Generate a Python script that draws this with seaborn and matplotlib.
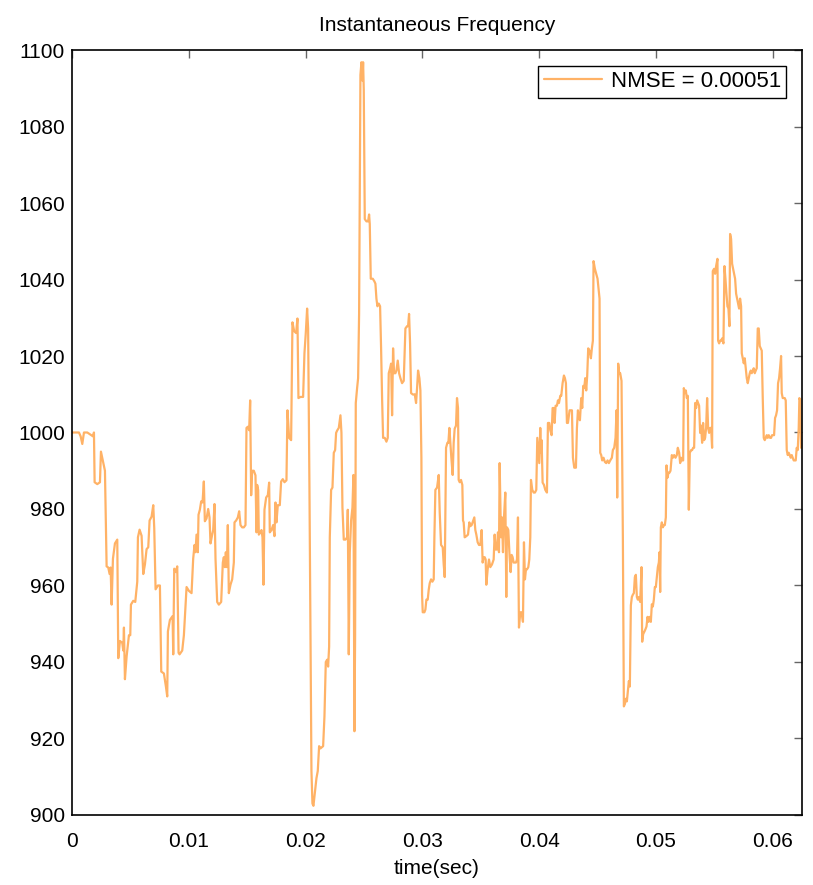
import numpy as np
import pandas as pd
import matplotlib
matplotlib.use('Agg')
import matplotlib.pyplot as plt
import seaborn as sns

# values (time in ms, frequency in Hz)
time_ms = [
    0.0, 0.594, 0.736, 0.879, 1.021, 1.307, 1.592, 1.791, 1.877, 1.934, 2.162, 2.390,
    2.476, 2.647, 2.818, 2.961, 3.103, 3.217, 3.303, 3.389, 3.503, 3.674, 3.873, 3.959,
    4.102, 4.301, 4.387, 4.444, 4.529, 4.672, 4.872, 4.986, 5.043, 5.242, 5.413, 5.585,
    5.642, 5.784, 5.955, 6.098, 6.241, 6.383, 6.526, 6.640, 6.811, 6.954, 7.039, 7.153,
    7.353, 7.524, 7.638, 7.866, 8.037, 8.151, 8.208, 8.380, 8.608, 8.665, 8.750, 8.893,
    9.007, 9.121, 9.207, 9.435, 9.577, 9.720, 9.806, 10.005, 10.233,
    10.373, 10.487, 10.573, 10.658, 10.772, 10.829, 10.944, 11.058, 11.172, 11.286, 11.371,
    11.514, 11.657, 11.771, 11.856, 11.999, 12.084, 12.198, 12.284, 12.427, 12.569, 12.769,
    12.911, 12.997, 13.083, 13.168, 13.254, 13.339, 13.425, 13.567, 13.710, 13.853, 13.910,
    14.052, 14.195, 14.309, 14.423, 14.566, 14.708, 14.851, 14.936, 15.051, 15.165, 15.250,
    15.336, 15.421, 15.564, 15.706, 15.792, 15.849, 15.935, 15.992, 16.134, 16.220, 16.305,
    16.391, 16.476, 16.619, 16.762, 16.876, 16.933, 17.075, 17.218, 17.332, 17.418, 17.503,
    17.617, 17.788, 17.903, 18.045, 18.188, 18.359, 18.444, 18.587, 18.758, 18.872, 19.015,
    19.186, 19.300, 19.385, 19.556, 19.785, 19.899, 20.013, 20.127, 20.213, 20.327, 20.412,
    20.498, 20.584, 20.669, 20.811, 20.925, 21.039, 21.154, 21.268,
    21.498, 21.612, 21.726, 21.840, 21.926, 22.012, 22.069, 22.183, 22.297, 22.411, 22.525,
    22.610, 22.696, 22.839, 22.981, 23.067, 23.152, 23.266, 23.409, 23.552, 23.609, 23.694,
    23.780, 23.894, 24.008, 24.093, 24.179, 24.236, 24.293, 24.407, 24.493, 24.578, 24.635,
    24.692, 24.778, 24.864, 24.921, 24.978, 25.063, 25.206, 25.348, 25.434, 25.491, 25.577,
    25.748, 25.890, 25.976, 26.061, 26.147, 26.261, 26.375, 26.461, 26.546, 26.632, 26.774,
    26.917, 27.031, 27.117, 27.231, 27.316, 27.402, 27.487, 27.573, 27.687, 27.773, 27.887,
    28.001, 28.115, 28.257, 28.400, 28.543, 28.685, 28.771, 28.856, 28.942, 29.027, 29.199,
    29.342, 29.455, 29.541, 29.627, 29.740, 29.826, 29.912, 29.969, 30.026, 30.168, 30.254,
    30.340, 30.453, 30.539, 30.625, 30.739, 30.853, 30.967, 31.024, 31.109, 31.252, 31.395,
    31.480, 31.594, 31.737, 31.822, 31.908, 32.022, 32.136, 32.222, 32.307,
    32.476, 32.590, 32.675, 32.761, 32.875, 32.960, 33.046, 33.103, 33.189, 33.303, 33.417,
    33.474, 33.531, 33.616, 33.759, 33.902, 34.016, 34.101, 34.215, 34.329, 34.443, 34.529,
    34.615, 34.729, 34.843, 34.957, 35.071, 35.156, 35.242, 35.328, 35.413, 35.470, 35.584,
    35.698, 35.812, 35.955, 36.098, 36.183, 36.269, 36.383, 36.468, 36.554, 36.611, 36.725,
    36.811, 36.896, 36.982, 37.096, 37.181, 37.238, 37.352, 37.467, 37.552, 37.638, 37.723,
    37.809, 37.894, 38.008, 38.094, 38.180, 38.265, 38.379, 38.493, 38.607, 38.693, 38.778,
    38.864, 38.950, 39.064, 39.149, 39.235, 39.292, 39.406, 39.520, 39.634, 39.748, 39.834,
    39.919, 40.005, 40.090, 40.147, 40.204, 40.290, 40.404, 40.518, 40.661, 40.746, 40.860,
    40.946, 41.060, 41.146, 41.231, 41.317, 41.402, 41.516, 41.602, 41.688, 41.802, 41.887,
    42.001, 42.115, 42.201, 42.286, 42.372, 42.458, 42.600, 42.714, 42.800, 42.886, 43.000,
    43.142, 43.228, 43.313, 43.399, 43.484,
    43.596, 43.681, 43.767, 43.852, 43.938, 44.023, 44.109, 44.194, 44.309, 44.423, 44.508,
    44.594, 44.651, 44.765, 44.879, 44.993, 45.079, 45.164, 45.221, 45.307, 45.392, 45.506,
    45.620, 45.735, 45.849, 45.963, 46.077, 46.219, 46.305, 46.419, 46.533, 46.619, 46.676,
    46.761, 46.847, 46.932, 47.046, 47.161, 47.246, 47.332, 47.417, 47.503, 47.588, 47.674,
    47.759, 47.845, 47.931, 48.016, 48.102, 48.187, 48.273, 48.358, 48.444, 48.530, 48.644,
    48.758, 48.815, 48.900, 49.014, 49.100, 49.185, 49.271, 49.357, 49.442, 49.556, 49.642,
    49.727, 49.813, 49.898, 49.984, 50.070, 50.155, 50.241, 50.298, 50.355, 50.412, 50.497,
    50.583, 50.669, 50.754, 50.840, 50.897, 50.982, 51.068, 51.153, 51.239, 51.353, 51.439,
    51.553, 51.667, 51.781, 51.866, 51.981, 52.066, 52.152, 52.237, 52.323, 52.380, 52.465,
    52.551, 52.636, 52.722, 52.808, 52.893,
    53.006, 53.091, 53.177, 53.262, 53.348, 53.433, 53.519, 53.604, 53.690, 53.776, 53.861,
    53.947, 54.032, 54.118, 54.203, 54.289, 54.375, 54.460, 54.546, 54.631, 54.717, 54.802,
    54.859, 54.973, 55.059, 55.145, 55.259, 55.316, 55.401, 55.487, 55.572, 55.658, 55.772,
    55.858, 55.943, 56.029, 56.114, 56.200, 56.285, 56.342, 56.428, 56.514, 56.599, 56.685,
    56.770, 56.856, 56.941, 57.027, 57.112, 57.198, 57.284, 57.341, 57.426, 57.512, 57.597,
    57.683, 57.768, 57.854, 57.940, 58.025, 58.111, 58.196, 58.282, 58.367, 58.453, 58.538,
    58.624, 58.710, 58.795, 58.881, 58.966, 59.052, 59.137, 59.223, 59.308, 59.394, 59.480,
    59.565, 59.651, 59.765, 59.850, 59.936, 60.021, 60.107, 60.192, 60.278, 60.363, 60.449,
    60.535, 60.620, 60.706, 60.763, 60.848, 60.934, 61.019, 61.105, 61.191, 61.276, 61.362,
    61.447, 61.533, 61.618, 61.704, 61.789, 61.875, 61.960, 62.046, 62.132, 62.217, 62.274,
    62.360, 62.417, 62.474,
]
freq_hz = [
    1000, 1000, 999, 997, 1000, 1000, 999.4, 999, 1000, 987, 986.5, 987,
    995, 992.5, 990, 965, 964.7, 963, 964.7, 955, 967, 971, 972, 941,
    945.5, 945, 943, 949, 935.5, 941.4, 947, 947, 955, 956, 955.7, 961,
    972.6, 974.6, 973, 963, 965.5, 969.5, 970, 977, 978, 981, 975, 959,
    960, 960, 937.5, 937, 933.6, 931, 948, 951, 952, 942, 964.4, 963.5,
    965, 942.4, 942, 943, 947, 955, 959.6, 958.6, 958,
    967, 970.6, 968.7, 973.3, 968.7, 978.5, 979.8, 982, 981.7, 987.2, 976.8,
    977.5, 980, 977.8, 971, 973.3, 974.5, 981.3, 967, 955.7, 955, 955.7,
    966, 967.4, 964.8, 968.7, 964.8, 975.8, 958, 960.2, 961.6, 966, 976.5,
    977, 977.8, 979.4, 975.8, 975.2, 975.2, 975.8, 1001.2, 1001.5, 1000.6, 1008.4,
    983.6, 990, 990, 988.8, 973.9, 986.3, 985, 973.3, 973.9, 974.5, 972.6,
    960.2, 979.8, 983, 983.6, 986.9, 973.9, 974.5, 975.8, 972.9, 981.7, 976.5,
    981, 981, 987.2, 987.8, 987, 987.5, 1005.8, 998.6, 998, 1028.8, 1026.5,
    1026, 1029.8, 1009, 1009.3, 1009.3, 1020.7, 1026, 1032.4, 1027.2, 985.6, 946.6,
    911.5, 903, 902.4, 906.3, 909.6, 911.5, 918, 917.4,
    918, 925.8, 940, 940.6, 938.8, 944, 972.6, 985, 985.6, 994.7, 995.4,
    999.9, 1000.5, 1001.2, 1004.5, 999.9, 980.4, 972, 972, 972.6, 979.8, 942,
    968.7, 977, 980.4, 988.9, 921.9, 946.6, 1007.7, 1011.6, 1014.2, 1031, 1063.6,
    1093.5, 1096.8, 1092, 1096.8, 1089.6, 1055.8, 1055.2, 1055.2, 1057, 1054.5, 1040.2,
    1040.2, 1039.5, 1038.9, 1035, 1033, 1033.7, 1033, 1022, 1009, 998.6, 998.6,
    997.6, 998.6, 1015.5, 1016.8, 1018, 1004.5, 1022, 1015.5, 1015.5, 1016.2, 1018.8,
    1015.5, 1014.2, 1012.9, 1013.5, 1027.2, 1027.8, 1027.8, 1031, 1023.3, 1010.3, 1009.9,
    1010, 1007.7, 1011.6, 1016.2, 1014.2, 1011, 993.4, 957.6, 953, 953, 953.7,
    956.3, 956.3, 958.9, 960.6, 961.6, 961, 961.6, 972.6, 985, 985.6, 988.9,
    979.1, 970.6, 970, 965.5, 962.2, 996, 997.3, 997.3, 1001.2,
    993.4, 988.9, 997.3, 1001, 1001.8, 1009, 1006.4, 987.6, 987, 987.6, 986.3,
    977, 976.5, 972.6, 972.9, 973.3, 976.5, 975.5, 975.8, 976.8, 977.8, 974.5,
    973.3, 971.3, 970.6, 970.6, 974.5, 966, 967.4, 967.4, 966.8, 960.2, 964.2,
    966.8, 964.8, 965.5, 966.8, 973.3, 969.4, 969.4, 973.9, 968.7, 992, 972.6,
    977.8, 968.7, 977.8, 984.3, 957, 975.2, 974.5, 967.4, 963.5, 968, 967.4,
    966, 966, 966, 966.8, 977.8, 949, 953, 953, 950.5, 971.3, 961.6,
    964.2, 964.2, 964.8, 966.8, 972.6, 987.6, 985, 984.3, 984.3, 985, 998.6,
    995.4, 992, 1001.2, 994.7, 998, 986.9, 986.3, 985, 984.3, 1002.5, 1002.5,
    1000.6, 999.3, 1006.4, 1006.4, 1002.5, 1007, 1007, 1008.4, 1007.7, 1009.6, 1009.6,
    1012.9, 1014.9, 1014.2, 1012.9, 1002.5, 1002.5, 1005.8, 1005.8, 1005.8, 993.4, 990.8,
    990.8, 1001.2, 1005.8, 1003.8, 1003.2,
    1009, 1006.4, 1012.2, 1011.6, 1014.2, 1011, 1014.9, 1022, 1021.4, 1019.4, 1022,
    1024, 1044.8, 1042.8, 1041.5, 1040.2, 1037.6, 1035, 994.7, 994.1, 992.7, 993.4,
    992.3, 992, 992.7, 992, 992.7, 993.4, 995.4, 996, 998.6, 1005.8, 983,
    1018, 1015.5, 1015.5, 1013.5, 972.6, 928.4, 929, 930.4, 929.7, 932.3, 935,
    933.6, 954.8, 957, 957.6, 958, 962.2, 962.8, 957, 956.3, 957, 955.7,
    964.8, 945.3, 947.3, 948, 948.6, 949.3, 951.8, 950.5, 951.8, 950.5, 955.1,
    954.5, 956.3, 959.6, 959.6, 962.2, 964.8, 966, 968.7, 958.3, 975.2, 976.5,
    975.2, 975.8, 975.8, 977.8, 991.4, 988.2, 989.5, 989.5, 990, 994.1, 993.4,
    994.1, 993.4, 994.1, 996, 994.7, 992, 993.4, 992.7, 992.7, 1011.6, 1010.3,
    1011, 1009, 1009.6, 979.8, 994.7,
    995.4, 995.4, 996, 996, 1007.7, 1006.4, 1008.4, 1007.7, 1007, 999.9, 1001.8,
    997.3, 1002.5, 998, 998.6, 1001.2, 1009, 1001.2, 999.9, 1001.2, 1001.2, 996,
    1042.2, 1042.8, 1041.5, 1043.5, 1045.4, 1024, 1023.3, 1024, 1024, 1024.6, 1023.3,
    1043.5, 1040.2, 1036.3, 1033, 1032.4, 1027.8, 1051.9, 1050.6, 1044.1, 1042.8, 1041.5,
    1040.2, 1036.3, 1035, 1033.7, 1032.4, 1035, 1033, 1020.7, 1019.4, 1018.1, 1019.4,
    1016.8, 1014.2, 1012.9, 1014.2, 1015.5, 1016.2, 1015.5, 1016.2, 1016.8, 1015.5, 1016.2,
    1016.8, 1027.2, 1027.2, 1022.6, 1022, 1021.4, 1009, 998.6, 998, 998.6, 999.3,
    998.6, 999.3, 998.6, 998.6, 999.3, 999.3, 999.3, 1003.8, 1004.5, 1005.8, 1012.9,
    1014.2, 1016.8, 1020, 1010.3, 1009, 1009, 1009, 1008.4, 995.4, 994.1, 994.7,
    994.1, 993.4, 994.1, 993.4, 992.7, 992.7, 992.7, 996, 995.4, 1001.2, 1009,
    1008.4, 996, 996.6,
]

legend_label = 'NMSE = 0.00051'
x_ticks = [0, 0.01, 0.02, 0.03, 0.04, 0.05, 0.06]
x_tick_labels = ['0', '0.01', '0.02', '0.03', '0.04', '0.05', '0.06']
y_ticks = [900, 920, 940, 960, 980, 1000, 1020, 1040, 1060, 1080, 1100]

df = pd.DataFrame({'time': np.array(time_ms) / 1000.0, 'freq': freq_hz})

sns.set_style('white')
plt.rcParams['font.family'] = ['Liberation Sans', 'DejaVu Sans']
plt.rcParams['text.color'] = 'black'
plt.rcParams['axes.labelcolor'] = 'black'

fig = plt.figure(figsize=(8.13, 8.85), dpi=100)
ax = fig.add_axes([0.0886, 0.0791, 0.8979, 0.8644])

sns.lineplot(data=df, x='time', y='freq', ax=ax, color='#FFB266', linewidth=1.6,
             estimator=None, sort=False, label=legend_label)

ax.set_xlim(0, 0.0625)
ax.set_ylim(900, 1100)
ax.set_xticks(x_ticks)
ax.set_xticklabels(x_tick_labels)
ax.set_yticks(y_ticks)

ax.tick_params(direction='in', top=True, right=True, length=6, width=1,
               color='#666666', labelcolor='black', labelsize=15)
ax.tick_params(axis='x', pad=12)
ax.tick_params(axis='y', pad=5)
for s in ax.spines.values():
    s.set_color('black')
    s.set_linewidth(1.2)

ax.set_title('Instantaneous Frequency', fontsize=15, pad=14, color='black')
ax.set_xlabel('time(sec)', fontsize=15, labelpad=6)
ax.set_ylabel('')

leg = ax.legend(loc='upper right', fontsize=16, frameon=True, fancybox=False,
                handlelength=2.6, handletextpad=0.4, borderpad=0.25,
                borderaxespad=0.7)
leg.get_frame().set_edgecolor('black')
leg.get_frame().set_linewidth(1.0)
leg.get_frame().set_alpha(1)

fig.savefig('out.png', dpi=100)
